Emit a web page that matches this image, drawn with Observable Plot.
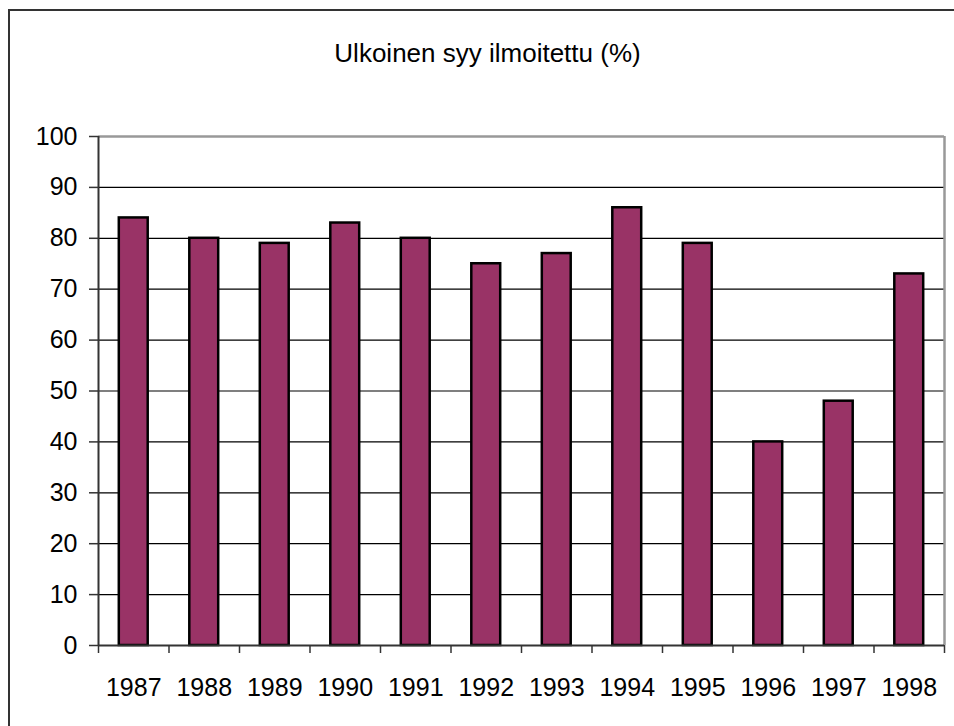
<!DOCTYPE html>
<html>
<head>
<meta charset="utf-8">
<script src="https://cdn.jsdelivr.net/npm/d3@7"></script>
<script src="https://cdn.jsdelivr.net/npm/@observablehq/plot@0.6"></script>
<style>
  html, body { margin: 0; padding: 0; background: #fff; }
  #wrap { position: relative; width: 954px; height: 726px; overflow: hidden; font-family: "Liberation Sans", Arial, sans-serif; }
  #frame { position: absolute; left: 8px; top: 9px; width: 960px; height: 740px; border-left: 2px solid #333; border-top: 2px solid #333; pointer-events: none; }
  #title { position: absolute; left: 0; width: 975px; top: 38px; line-height: 30px; text-align: center; font-size: 26px; color: #000; }
  #chart { position: absolute; left: 0; top: 0; }
</style>
</head>
<body>
<div id="wrap">
  <div id="chart"></div>
  <div id="frame"></div>
  <div id="title">Ulkoinen syy ilmoitettu (%)</div>
</div>
<script>
const years = ["1987","1988","1989","1990","1991","1992","1993","1994","1995","1996","1997","1998"];
const values = [84, 80, 79, 83, 80, 75, 77, 86, 79, 40, 48, 73];
const yTicks = [0, 10, 20, 30, 40, 50, 60, 70, 80, 90, 100];
const gridLines = [10, 20, 30, 40, 50, 60, 70, 80, 90];

const data = years.map((y, i) => ({year: y, value: values[i]}));

const W = 954, H = 726;
const mL = 98, mR = 10, mT = 136, mB = 81;
const step = (W - mL - mR) / years.length;

const plot = Plot.plot({
  width: W,
  height: H,
  marginLeft: mL,
  marginRight: mR,
  marginTop: mT,
  marginBottom: mB,
  style: {fontFamily: "'Liberation Sans', Arial, sans-serif", fontSize: "26px", background: "transparent", color: "#000"},
  x: {domain: years, paddingInner: 0.59, paddingOuter: 0.295, round: false, label: null},
  y: {domain: [0, 100], label: null},
  marks: [
    Plot.ruleY(gridLines, {stroke: "#000", strokeWidth: 1.2}),
    Plot.ruleY([100], {stroke: "#999", strokeWidth: 2.5}),
    Plot.ruleX([years[years.length - 1]], {dx: step / 2, y1: 0, y2: 100, stroke: "#999", strokeWidth: 2.5}),
    Plot.barY(data, {x: "year", y: "value", fill: "#993366", stroke: "#000", strokeWidth: 2.5}),
    Plot.ruleX([years[0]], {dx: -step / 2, y1: 0, y2: 100, stroke: "#333", strokeWidth: 2}),
    Plot.ruleY([0], {stroke: "#333", strokeWidth: 2}),
    Plot.axisY({ticks: yTicks, tickSize: 9, tickPadding: 12, stroke: "#333", strokeWidth: 1.5, fontSize: 25, tickFormat: d => String(d)}),
    Plot.ruleX(years, {dx: -step / 2, y1: 0, y2: 0, insetBottom: -8, stroke: "#333", strokeWidth: 1.5}),
    Plot.ruleX([years[years.length - 1]], {dx: step / 2, y1: 0, y2: 0, insetBottom: -8, stroke: "#333", strokeWidth: 1.5}),
    Plot.axisX({tickSize: 0, tickPadding: 33, fontSize: 25})
  ]
});
document.getElementById("chart").appendChild(plot);
</script>
</body>
</html>
